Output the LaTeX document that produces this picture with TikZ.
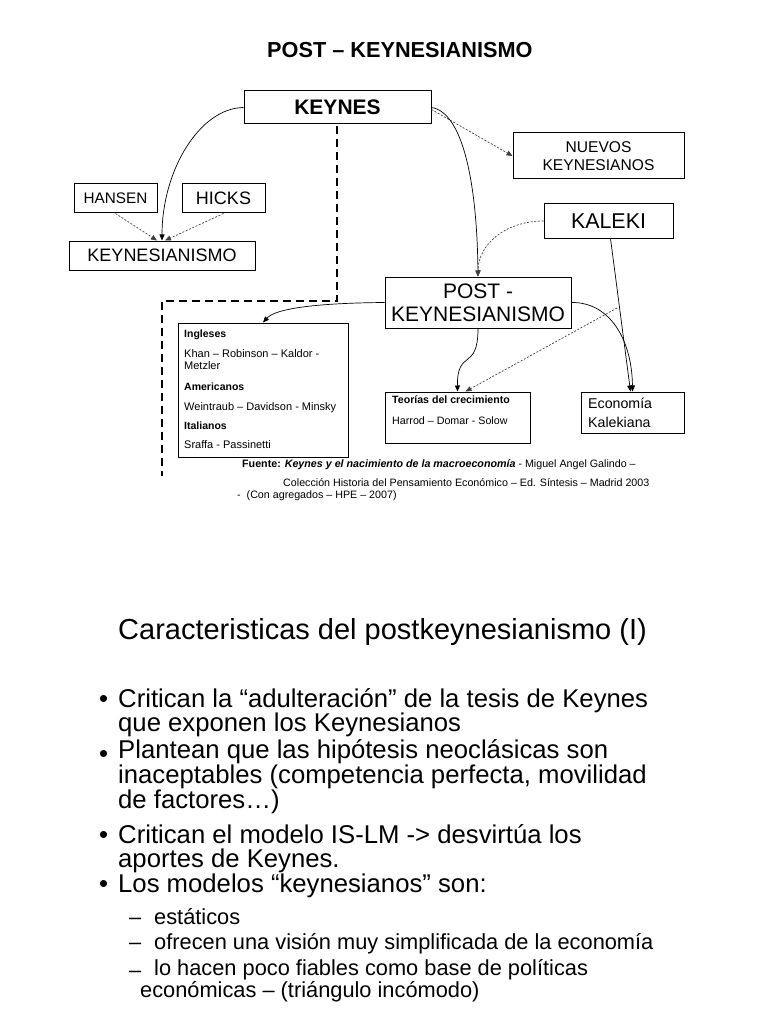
\documentclass[tikz,border=0pt]{standalone}
\usepackage{fontspec}
\setmainfont{Liberation Sans}
\usetikzlibrary{arrows.meta}
\newcommand{\myfs}[2]{\fontsize{#1}{#2}\selectfont}
\begin{document}
\begin{tikzpicture}[x=1pt,y=-1pt,
  boxnode/.style={draw=black, line width=1pt, inner sep=0pt, align=center},
  conn/.style={line width=0.7pt, -{Triangle[length=6pt,width=5pt]}},
  dconn/.style={conn, draw=black!75, dash pattern=on 2pt off 1.6pt},
  bigdash/.style={line width=2.2pt, dash pattern=on 8pt off 5pt},
  txt/.style={inner sep=0pt, anchor=base west},
  para/.style={inner sep=0pt, anchor=base west, align=left}]
\useasboundingbox (0,0) rectangle (768,1024);
\fill[white] (0,0) rectangle (768,1024);

% title
\node[txt, font=\bfseries\myfs{21.7}{24}] (title) at (267,58) {POST – KEYNESIANISMO};

% boxes
\node[boxnode, minimum width=187pt, minimum height=33pt, font=\bfseries\myfs{21}{24}] (keynes) at (337.5,107.5) {KEYNES};
\node[boxnode, minimum width=83pt, minimum height=29pt, font=\myfs{15.3}{18}] (hansen) at (115.5,198.5) {HANSEN};
\node[boxnode, minimum width=83pt, minimum height=29pt, font=\myfs{18}{20}] (hicks) at (223.5,198.5) {HICKS};
\node[boxnode, minimum width=186pt, minimum height=29pt, font=\myfs{18}{20}] (keyn) at (162,255.5) {KEYNESIANISMO};
\node[boxnode, minimum width=171pt, minimum height=46pt, font=\myfs{15.6}{18}] (nuevos) at (598.5,156) {NUEVOS\\KEYNESIANOS};
\node[boxnode, minimum width=129pt, minimum height=34pt, font=\myfs{21.4}{24}] (kaleki) at (608.5,221) {KALEKI};
\node[boxnode, minimum width=186pt, minimum height=51pt, font=\myfs{21}{23}] (post) at (478,302.5) {POST -\\KEYNESIANISMO};
\node[boxnode, minimum width=170pt, minimum height=134pt] (ingl) at (263,390) {};
\node[boxnode, minimum width=145pt, minimum height=51pt] (teor) at (457.5,417.5) {};
\node[boxnode, minimum width=103pt, minimum height=41pt] (econ) at (632.5,412.5) {};

% texts inside boxes
\begin{scope}[every node/.style={txt, font=\myfs{11}{13}}]
\node[font=\bfseries\myfs{10.5}{13}] (i1) at (184,337) {Ingleses};
\node (i2) at (184,357) {Khan – Robinson – Kaldor -};
\node (i3) at (184,369.5) {Metzler};
\node[font=\bfseries\myfs{10.5}{13}] (i4) at (184,390) {Americanos};
\node (i5) at (184,410) {Weintraub – Davidson - Minsky};
\node[font=\bfseries\myfs{10.5}{13}] (i6) at (184,429) {Italianos};
\node (i7) at (184,448) {Sraffa - Passinetti};
\node[font=\bfseries\myfs{10.6}{13}] (t1) at (392,403) {Teorías del crecimiento};
\node[font=\myfs{10.7}{13}] (t2) at (392,424) {Harrod – Domar - Solow};
\node[font=\myfs{14.2}{17}] (e1) at (588,408) {Economía};
\node[font=\myfs{14.2}{17}] (e2) at (588,427) {Kalekiana};
\end{scope}

% big dashed line
\coordinate (d1) at (337,126);
\coordinate (d2) at (337,301);
\coordinate (d3) at (162,301);
\coordinate (d4) at (162,476);
\draw[bigdash] (d1) -- (d2) -- (d3) -- (d4);

% connectors
\draw[conn] (keynes.west) .. controls (200,108) and (162,170) .. (keyn.north);
\draw[dconn] (hansen.south) -- ([xshift=-5pt]keyn.north);
\draw[dconn] (hicks.south) -- ([xshift=3pt]keyn.north);
\draw[dconn] ([yshift=-2pt]keynes.east) -- (nuevos.west);
\draw[conn] (keynes.east) .. controls (462,112) and (477,180) .. (post.north);
\draw[dconn] (kaleki.west) .. controls (505,221) and (478,245) .. (post.north);
\draw[conn] ([xshift=2pt]kaleki.south) -- ([xshift=-2pt]econ.north);
\draw[conn] (post.east) .. controls (610,302) and (632,340) .. (econ.north);
\coordinate (free) at (617,308);
\draw[dconn] (free) -- ([xshift=8pt]teor.north);
\draw[conn] (post.south) .. controls (478,372) and (457,348) .. (teor.north);
\draw[conn] (post.west) .. controls (320,303) and (276,308) .. (ingl.north);

% source
\begin{scope}[every node/.style={txt, font=\myfs{10.7}{12}}]
\node (f1) at (242,467) {\textbf{Fuente:} \textbf{\textit{Keynes y el nacimiento de la macroeconomía}} - Miguel Angel Galindo –};
\node (f2) at (283,486) {Colección Historia del Pensamiento Económico – Ed. Síntesis – Madrid 2003};
\node (f3) at (237,498) {-\ \ (Con agregados – HPE – 2007)};
\end{scope}

% lower slide (multi-line nodes are anchored at the baseline of their last line)
\node[txt, font=\myfs{29}{30}] (ctitle) at (118,639) {Caracteristicas del postkeynesianismo (I)};
\begin{scope}[every node/.style={txt, font=\myfs{25.7}{23}}]
\node (b1) at (99,707) {•};
\node (b2) at (99,762) {•};
\node (b3) at (99,843) {•};
\node (b4) at (99,892) {•};
\node (l8) at (118,892) {Los modelos “keynesianos” son:};
\end{scope}
\node[para, font=\myfs{25.7}{24.5}] (l1) at (118,731.5) {Critican la “adulteración” de la tesis de Keynes\\que exponen los Keynesianos};
\node[para, font=\myfs{25.7}{23}] (l3) at (118,808) {Plantean que las hipótesis neoclásicas son\\inaceptables (competencia perfecta, movilidad\\de factores…)};
\node[para, font=\myfs{25.7}{24}] (l6) at (118,867) {Critican el modelo IS-LM -> desvirtúa los\\aportes de Keynes.};
\begin{scope}[every node/.style={txt, font=\myfs{21.8}{20}}]
\node (s1d) at (129,924) {–};
\node (s1) at (154,924) {estáticos};
\node (s2d) at (129,949) {–};
\node (s2) at (154,949) {ofrecen una visión muy simplificada de la economía};
\node (s3d) at (129,977) {–};
\node[para] (s3) at (154,997) {lo hacen poco fiables como base de políticas\\\hspace*{-14pt}económicas – (triángulo incómodo)};
\end{scope}
\end{tikzpicture}
\end{document}
